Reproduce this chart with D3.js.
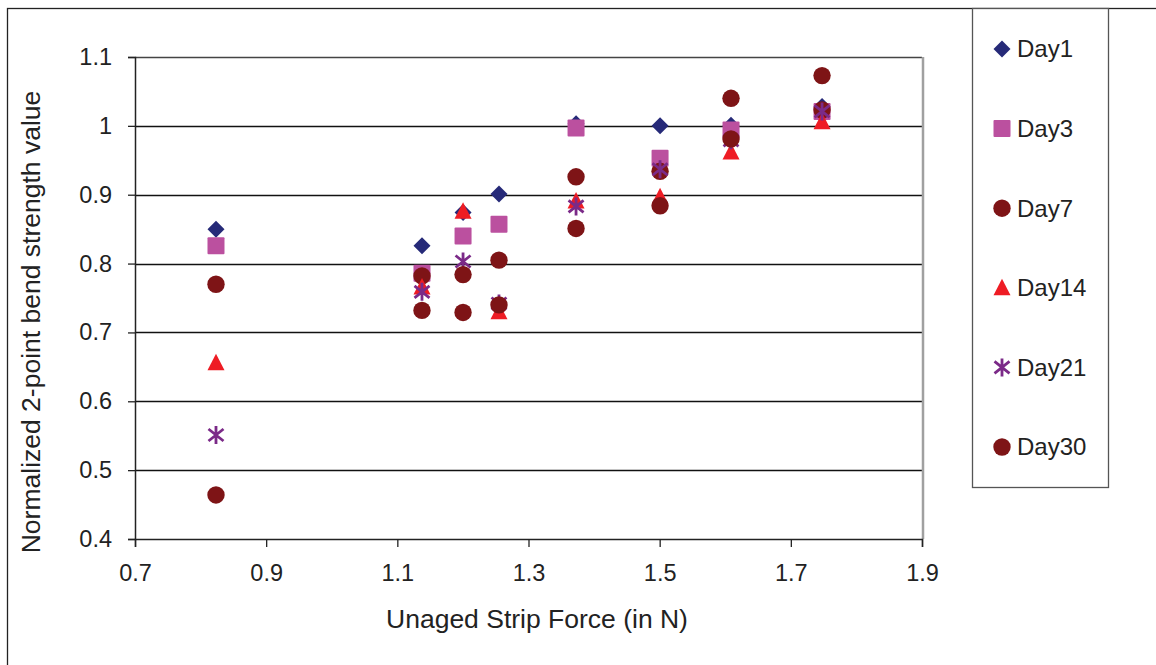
<!DOCTYPE html>
<html>
<head>
<meta charset="utf-8">
<script src="https://cdn.jsdelivr.net/npm/d3@7"></script>
<style>
  body { margin: 0; background: #fff; }
  svg { display: block; font-family: "Liberation Sans", Arial, sans-serif; }
</style>
</head>
<body>
<script>
// unaged strip force values (x positions of the sample groups)
var force = [0.8235, 1.1376, 1.2002, 1.255, 1.3725, 1.5006, 1.6088, 1.7476];

// normalized 2-point bend strength for each aging day
var day1  = [0.850, 0.826, 0.874, 0.901, 1.003, 1.000, 1.001, 1.028];
var day3  = [0.826, 0.786, 0.840, 0.857, 0.997, 0.953, 0.994, 1.021];
var day7  = [0.770, 0.782, 0.729, 0.805, 0.926, 0.934, 1.040, 1.023];
var day14 = [0.656, 0.766, 0.876, 0.730, 0.891, 0.897, 0.962, 1.006];
var day21 = [0.551, 0.759, 0.803, 0.742, 0.883, 0.937, 0.979, 1.021];
var day30 = [0.464, 0.732, 0.784, 0.740, 0.851, 0.884, 0.981, 1.073];

var xTicks = [0.7, 0.9, 1.1, 1.3, 1.5, 1.7, 1.9];
var yTicks = [0.4, 0.5, 0.6, 0.7, 0.8, 0.9, 1.0, 1.1];

var series = [
    { name: "Day1",  values: day1,  color: "#262a78", shape: "diamond" },
    { name: "Day3",  values: day3,  color: "#bb509f", shape: "square" },
    { name: "Day7",  values: day7,  color: "#7e1416", shape: "circle" },
    { name: "Day14", values: day14, color: "#ee1c24", shape: "triangle" },
    { name: "Day21", values: day21, color: "#7b2a88", shape: "star" },
    { name: "Day30", values: day30, color: "#7e1416", shape: "circle" }
];

var width = 1156,
    height = 665;

var svg = d3.select("body").append("svg")
    .attr("width", width)
    .attr("height", height)

// outer frame of the chart area
svg.append("rect")
    .attr("x", 7.5).attr("y", 8.5)
    .attr("width", 1200).attr("height", 700)
    .attr("fill", "none").attr("stroke", "#222").attr("stroke-width", 1.3)

var x = d3.scaleLinear().domain([0.7, 1.9]).range([135, 922]);
var y = d3.scaleLinear().domain([0.4, 1.1]).range([539, 57]);

/* gridlines */
svg.append("g")
    .selectAll("line")
    .data(yTicks.slice(1))
    .enter().append("line")
    .attr("x1", x(0.7)).attr("x2", x(1.9))
    .attr("y1", function (d) { return Math.round(y(d)) + 0.5 })
    .attr("y2", function (d) { return Math.round(y(d)) + 0.5 })
    .attr("stroke", function (d) { return d > 1.05 ? "#444" : "#111" })
    .attr("stroke-width", 1.3)

// right border of plot area
svg.append("line")
    .attr("x1", x(1.9) + 1).attr("x2", x(1.9) + 1)
    .attr("y1", y(1.1)).attr("y2", y(0.4))
    .attr("stroke", "#a0a0a0").attr("stroke-width", 2.5)

/* axes */
var yAxis = svg.append("g")
    .attr("transform", "translate(" + x(0.7) + ",0)")
    .call(d3.axisLeft(y).tickValues(yTicks).tickSize(7).tickPadding(16)
        .tickFormat(function (d) { return d === 1 ? "1" : d3.format(".1f")(d) }))
var xAxis = svg.append("g")
    .attr("transform", "translate(0," + y(0.4) + ")")
    .call(d3.axisBottom(x).tickValues(xTicks).tickSize(8).tickPadding(17)
        .tickFormat(d3.format(".1f")))

svg.selectAll(".domain").attr("stroke", "#222").attr("stroke-width", 1.5)
svg.selectAll(".tick line").attr("stroke", "#222").attr("stroke-width", 1.3)
svg.selectAll(".tick text")
    .attr("font-size", 23.5).attr("fill", "#222")
    .attr("font-family", "Liberation Sans, Arial, sans-serif")

/* axis titles */
svg.append("text")
    .attr("x", 537).attr("y", 628)
    .attr("text-anchor", "middle")
    .attr("font-size", 26.5).attr("fill", "#222")
    .text("Unaged Strip Force (in N)")

svg.append("text")
    .attr("transform", "translate(40,322) rotate(-90)")
    .attr("text-anchor", "middle")
    .attr("font-size", 26.5).attr("fill", "#222")
    .text("Normalized 2-point bend strength value")

/* marker shapes */
function marker(sel, shape, color) {
    if (shape === "diamond") {
        sel.append("path").attr("d", "M0,-8.5L8.5,0L0,8.5L-8.5,0Z").attr("fill", color)
    } else if (shape === "square") {
        sel.append("rect").attr("x", -8.5).attr("y", -8.5).attr("width", 17).attr("height", 17)
            .attr("rx", 1).attr("fill", color)
    } else if (shape === "circle") {
        sel.append("circle").attr("r", 8.7).attr("fill", color)
    } else if (shape === "triangle") {
        sel.append("path").attr("d", "M0,-9L8.5,7.5L-8.5,7.5Z").attr("fill", color)
    } else if (shape === "star") {
        sel.append("path").attr("d", "M0,-9V9M-7.5,-6L7.5,6M-7.5,6L7.5,-6")
            .attr("stroke", color).attr("stroke-width", 2.8).attr("fill", "none")
    }
}

/* points */
series.forEach(function (s) {
    var g = svg.append("g")
    s.values.forEach(function (v, i) {
        var p = g.append("g")
            .attr("transform", "translate(" + x(force[i]) + "," + y(v) + ")")
        marker(p, s.shape, s.color)
    })
})

/* legend */
var legend = svg.append("g")
legend.append("rect")
    .attr("x", 972.5).attr("y", 8.5)
    .attr("width", 136).attr("height", 479)
    .attr("fill", "#fff").attr("stroke", "#555").attr("stroke-width", 1.3)

var item = legend.selectAll("g.item")
    .data(series)
    .enter().append("g")
    .attr("class", "item")
    .attr("transform", function (d, i) { return "translate(1002," + (49 + i * 79.6) + ")" })

item.each(function (d) { marker(d3.select(this), d.shape, d.color) })

item.append("text")
    .attr("x", 15).attr("dy", "0.35em")
    .attr("font-size", 24).attr("fill", "#222")
    .text(function (d) { return d.name })
</script>
</body>
</html>
